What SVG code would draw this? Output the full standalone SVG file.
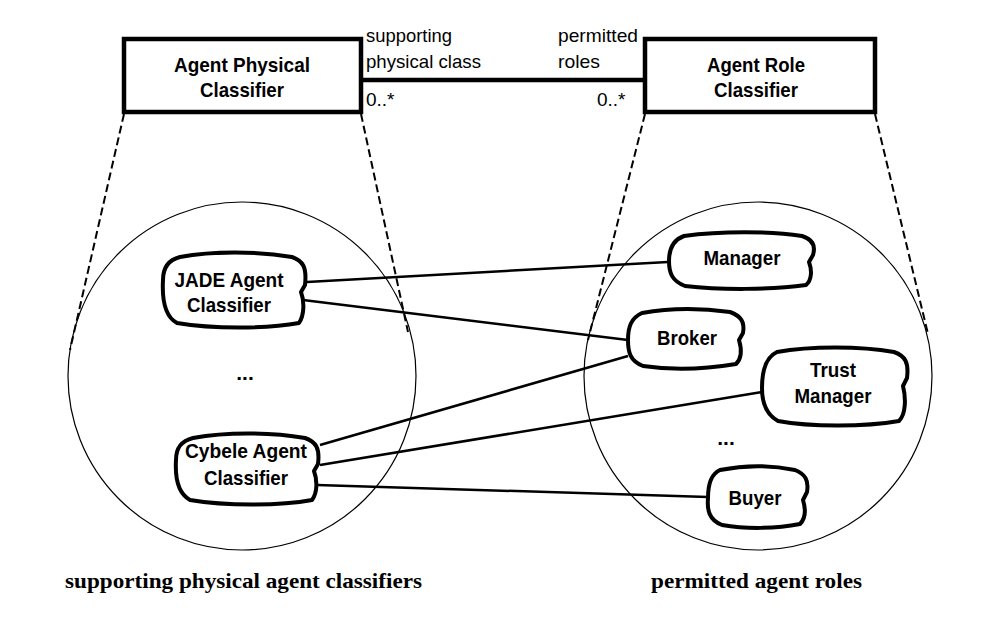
<svg xmlns="http://www.w3.org/2000/svg" width="986" height="635" viewBox="0 0 986 635">
<style>
.box{fill:#fff;stroke:#000;stroke-width:4.5}
.blob{fill:#fff;stroke:#000;stroke-width:4;stroke-linejoin:round}
.circ{fill:none;stroke:#000;stroke-width:1.2}
.dash{fill:none;stroke:#000;stroke-width:2;stroke-dasharray:8 4}
.conn{fill:none;stroke:#000;stroke-width:2.5}
.assoc{fill:none;stroke:#000;stroke-width:4.5}
.t{font-family:"Liberation Sans",Arial,sans-serif;font-weight:bold;font-size:21px;text-anchor:middle;fill:#000}
.l{font-family:"Liberation Sans",Arial,sans-serif;font-size:19px;fill:#000}
.cap{font-family:"Liberation Serif","Times New Roman",serif;font-weight:bold;font-size:22px;fill:#000}
</style>
<rect width="986" height="635" fill="#fff"/>
<g id="scopes">
<circle class="circ" cx="242" cy="376" r="174"/>
<circle class="circ" cx="758" cy="376" r="174"/>
<line class="dash" x1="124" y1="114" x2="70" y2="350"/>
<line class="dash" x1="361" y1="114" x2="408" y2="332"/>
<line class="dash" x1="645" y1="114" x2="588" y2="340"/>
<line class="dash" x1="875" y1="114" x2="928" y2="334"/>
</g>
<g id="connectors">
<line class="assoc" x1="363" y1="80" x2="643" y2="80"/>
<line class="conn" x1="307" y1="282" x2="668" y2="262"/>
<line class="conn" x1="303" y1="300" x2="628" y2="340"/>
<line class="conn" x1="320" y1="445" x2="628" y2="356"/>
<line class="conn" x1="320" y1="465" x2="762" y2="392"/>
<line class="conn" x1="317" y1="485" x2="708" y2="497"/>
</g>
<g id="assoc-labels">
<text class="l" x="366" y="42" textLength="86" lengthAdjust="spacingAndGlyphs">supporting</text>
<text class="l" x="366" y="68" textLength="115" lengthAdjust="spacingAndGlyphs">physical class</text>
<text class="l" x="558" y="42" textLength="80" lengthAdjust="spacingAndGlyphs">permitted</text>
<text class="l" x="558" y="68" textLength="42" lengthAdjust="spacingAndGlyphs">roles</text>
<text class="l" x="366" y="106">0..*</text>
<text class="l" x="597" y="106">0..*</text>
</g>
<g id="agent-physical-classifier">
<rect class="box" x="124" y="39" width="237" height="73"/>
<text class="t" x="242" y="72" textLength="136" lengthAdjust="spacingAndGlyphs">Agent Physical</text>
<text class="t" x="242" y="97" textLength="84" lengthAdjust="spacingAndGlyphs">Classifier</text>
</g>
<g id="agent-role-classifier">
<rect class="box" x="645" y="39" width="230" height="73"/>
<text class="t" x="756" y="72" textLength="98" lengthAdjust="spacingAndGlyphs">Agent Role</text>
<text class="t" x="756" y="97" textLength="84" lengthAdjust="spacingAndGlyphs">Classifier</text>
</g>
<g id="jade">
<path class="blob" d="M 180,257 C 212,251 257,251 292,257 C 303,261 307,267 305,285 L 301,292 C 304,300 305,314 299,323 C 267,329 212,329 177,323 C 164,316 162,298 163,280 C 163,268 168,260 180,257 Z"/>
<text class="t" x="229" y="287" textLength="109" lengthAdjust="spacingAndGlyphs">JADE Agent</text>
<text class="t" x="229" y="312" textLength="84" lengthAdjust="spacingAndGlyphs">Classifier</text>
</g>
<g id="cybele">
<path class="blob" d="M 193,438 C 225,432 270,432 305,438 C 316,442 320,448 318,464 L 314,471 C 317,479 318,492 312,500 C 280,506 225,506 190,500 C 177,493 175,477 176,460 C 176,448 181,441 193,438 Z"/>
<text class="t" x="246" y="458" textLength="122" lengthAdjust="spacingAndGlyphs">Cybele Agent</text>
<text class="t" x="246" y="485" textLength="84" lengthAdjust="spacingAndGlyphs">Classifier</text>
</g>
<text class="t" x="245" y="380">...</text>
<g id="manager">
<path class="blob" d="M 684,236 C 720,231 770,231 802,236 C 812,239 816,245 813,255 L 809,262 C 812,270 812,280 806,285 C 770,290 720,290 685,286 C 672,281 669,273 669,261 C 669,250 673,240 684,236 Z"/>
<text class="t" x="742" y="265" textLength="77" lengthAdjust="spacingAndGlyphs">Manager</text>
</g>
<g id="broker">
<path class="blob" d="M 642,313 C 670,308 700,308 730,312 C 741,316 745,322 743,333 L 739,340 C 742,350 742,358 736,364 C 700,370 670,370 643,366 C 630,361 628,352 628,340 C 628,327 631,318 642,313 Z"/>
<text class="t" x="687" y="345" textLength="60" lengthAdjust="spacingAndGlyphs">Broker</text>
</g>
<g id="trust-manager">
<path class="blob" d="M 777,352 C 810,346 860,346 894,352 C 905,356 909,362 907,378 L 903,386 C 906,398 906,414 899,421 C 865,427 810,427 778,421 C 765,414 762,400 762,388 C 762,370 766,357 777,352 Z"/>
<text class="t" x="833" y="377" textLength="46" lengthAdjust="spacingAndGlyphs">Trust</text>
<text class="t" x="833" y="403" textLength="77" lengthAdjust="spacingAndGlyphs">Manager</text>
</g>
<text class="t" x="726" y="445">...</text>
<g id="buyer">
<path class="blob" d="M 720,470 C 745,465 770,465 795,470 C 805,474 809,480 807,492 L 803,500 C 806,510 806,518 800,524 C 775,529 745,529 722,525 C 709,520 707,510 708,498 C 708,485 711,474 720,470 Z"/>
<text class="t" x="755" y="505" textLength="53" lengthAdjust="spacingAndGlyphs">Buyer</text>
</g>
<g id="captions">
<text class="cap" x="65" y="588" textLength="357" lengthAdjust="spacingAndGlyphs">supporting physical agent classifiers</text>
<text class="cap" x="651" y="588" textLength="211" lengthAdjust="spacingAndGlyphs">permitted agent roles</text>
</g>
</svg>
